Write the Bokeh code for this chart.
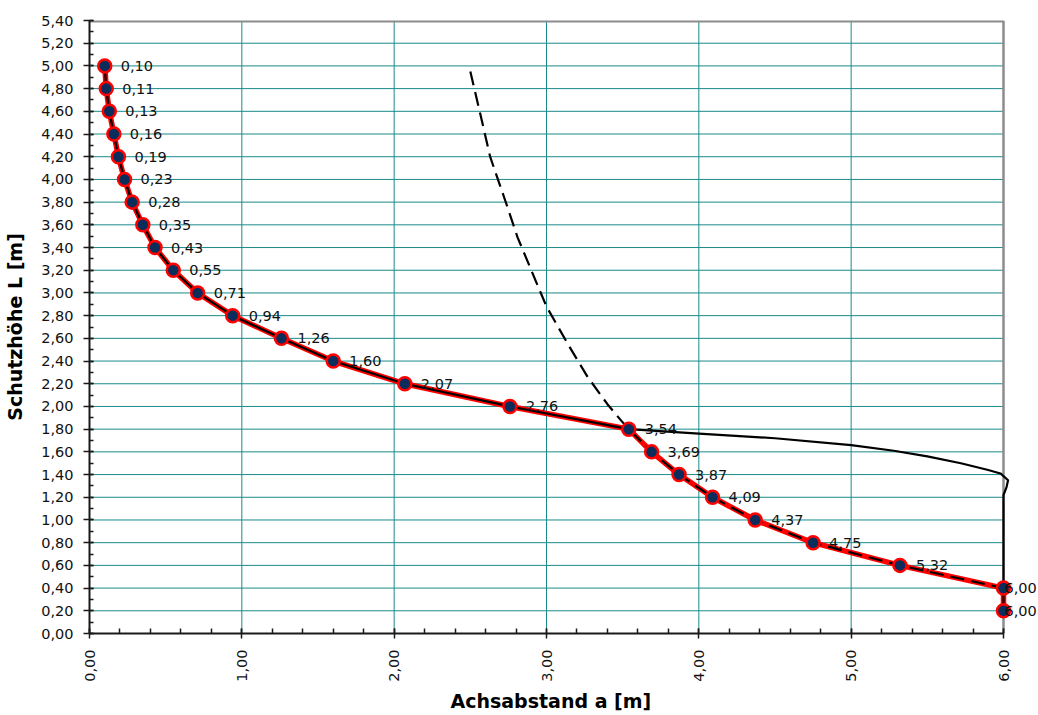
import numpy as np
from bokeh.plotting import figure
from bokeh.models import Range1d, FixedTicker, CustomJSTickFormatter, ColumnDataSource, Title
from bokeh.core.properties import value
from bokeh.embed import file_html
from bokeh.resources import INLINE

# ---- data ----
a_main = [0.10, 0.11, 0.13, 0.16, 0.19, 0.23, 0.28, 0.35, 0.43, 0.55, 0.71, 0.94,
          1.26, 1.60, 2.07, 2.76, 3.54, 3.69, 3.87, 4.09, 4.37, 4.75, 5.32, 6.00, 6.00]
L_main = [5.00, 4.80, 4.60, 4.40, 4.20, 4.00, 3.80, 3.60, 3.40, 3.20, 3.00, 2.80,
          2.60, 2.40, 2.20, 2.00, 1.80, 1.60, 1.40, 1.20, 1.00, 0.80, 0.60, 0.40, 0.20]

solid_a = [0.10, 0.11, 0.13, 0.16, 0.19, 0.23, 0.28, 0.35, 0.43, 0.55, 0.71, 0.94,
           1.26, 1.60, 2.07, 2.76, 3.54, 4.00, 4.50, 5.00, 5.28, 5.50, 5.72, 5.90,
           5.98, 6.03, 6.02, 6.00, 6.00]
solid_L = [5.00, 4.80, 4.60, 4.40, 4.20, 4.00, 3.80, 3.60, 3.40, 3.20, 3.00, 2.80,
           2.60, 2.40, 2.20, 2.00, 1.80, 1.76, 1.72, 1.66, 1.61, 1.56, 1.50, 1.44,
           1.41, 1.35, 1.29, 1.22, 0.20]

dash_a = [2.50, 2.57, 2.63, 2.73, 2.81, 2.90, 3.00, 3.14, 3.27, 3.40, 3.50, 3.54,
          3.69, 3.87, 4.09, 4.37, 4.75, 5.32, 6.00]
dash_L = [4.95, 4.55, 4.20, 3.81, 3.49, 3.20, 2.88, 2.55, 2.26, 2.02, 1.86, 1.80,
          1.60, 1.40, 1.20, 1.00, 0.80, 0.60, 0.40]

x_ticks = [0.0, 1.0, 2.0, 3.0, 4.0, 5.0, 6.0]
y_ticks = [0.0, 0.2, 0.4, 0.6, 0.8, 1.0, 1.2, 1.4, 1.6, 1.8, 2.0, 2.2, 2.4, 2.6,
           2.8, 3.0, 3.2, 3.4, 3.6, 3.8, 4.0, 4.2, 4.4, 4.6, 4.8, 5.0, 5.2, 5.4]

x_title = "Achsabstand a [m]"
y_title = "Schutzhöhe L [m]"

# ---- layout ----
X_MAX = 6.0
Y_MAX = 5.4
LEFT = 89
FRAME_W = 1038 - LEFT
X_END = X_MAX * FRAME_W / 914.0

FONT = "DejaVu Sans"

p = figure(width=1038, height=715,
           x_range=Range1d(0, X_END), y_range=Range1d(0, Y_MAX),
           output_backend="svg", toolbar_location=None,
           min_border_left=LEFT, min_border_right=0, min_border_top=20, min_border_bottom=82,
           background_fill_color="white", border_fill_color="white",
           outline_line_color=None)

p.xgrid.visible = False
p.ygrid.visible = False

fmt = CustomJSTickFormatter(code="return tick.toFixed(2).replace('.', ',');")

xminor = list(np.round(np.arange(0, X_MAX + 0.001, 0.2), 2))
yminor = list(np.round(np.arange(0, Y_MAX + 0.001, 0.1), 2))

p.xaxis.ticker = FixedTicker(ticks=x_ticks, minor_ticks=xminor)
p.yaxis.ticker = FixedTicker(ticks=y_ticks, minor_ticks=yminor)
p.xaxis.formatter = fmt
p.yaxis.formatter = fmt
p.xaxis.bounds = (0, X_MAX)
p.xaxis.major_label_orientation = np.pi / 2

for ax in (p.xaxis[0], p.yaxis[0]):
    ax.axis_line_color = "#1a1a1a"
    ax.axis_line_width = 2
    ax.major_tick_line_color = "#1a1a1a"
    ax.minor_tick_line_color = "#1a1a1a"
    ax.major_tick_line_width = 1.5
    ax.minor_tick_line_width = 1.5
    ax.major_label_text_font = FONT
    ax.major_label_text_font_size = "14.5px"
    ax.major_label_text_color = "#111111"

p.yaxis.major_tick_in = 4
p.yaxis.major_tick_out = 6
p.yaxis.minor_tick_in = 4
p.yaxis.minor_tick_out = 0
p.yaxis.major_label_standoff = 10
p.yaxis.axis_label = y_title
p.yaxis.axis_label_text_font = FONT
p.yaxis.axis_label_text_font_size = "19px"
p.yaxis.axis_label_text_font_style = "bold"
p.yaxis.axis_label_text_color = "#000000"
p.yaxis.axis_label_standoff = 12

p.xaxis.major_tick_in = 5
p.xaxis.major_tick_out = 5
p.xaxis.minor_tick_in = 5
p.xaxis.minor_tick_out = 0
p.xaxis.major_label_standoff = 11

# x title centred under the 0..6 part of the axis
p.add_layout(Title(text=x_title, align="left", offset=361, standoff=6,
                   text_font=FONT, text_font_size="19px", text_font_style="bold",
                   text_color="#000000"), "below")

# gridlines limited to the plot area (0..6 x 0..5.4)
hy = y_ticks[1:-1]
vx = x_ticks[1:-1]
p.segment(x0=[0] * len(hy), x1=[X_MAX] * len(hy), y0=hy, y1=hy,
          line_color="#1a8a8a", line_width=1)
p.segment(x0=vx, x1=vx, y0=[0] * len(vx), y1=[Y_MAX] * len(vx),
          line_color="#1a8a8a", line_width=1)
# plot-area border (top and right)
p.segment(x0=[0], x1=[X_MAX], y0=[Y_MAX], y1=[Y_MAX], line_color="#8c8c8c", line_width=4)
p.segment(x0=[X_MAX], x1=[X_MAX], y0=[0], y1=[Y_MAX], line_color="#8c8c8c", line_width=2.5)

# series
p.line(a_main, L_main, line_color="#ff0000", line_width=5.5, line_join="round")
p.line(solid_a, solid_L, line_color="black", line_width=2.2, line_join="round")
p.line(dash_a, dash_L, line_color="black", line_width=2.2, line_dash="14 7")
p.scatter(a_main, L_main, size=13, fill_color="#0b2d5b", line_color="#ff0000", line_width=2.5)

labels = [f"{v:.2f}".replace(".", ",") for v in a_main]
offsets = [16 if v < X_MAX else 1 for v in a_main]
src = ColumnDataSource(dict(x=a_main, y=L_main, t=labels, off=offsets))
p.text(x="x", y="y", text="t", x_offset="off", source=src,
       text_baseline="middle", text_align="left",
       text_font=value(FONT), text_font_size="14.5px", text_color="#111111")

open("out.html", "w").write(file_html(p, INLINE))
